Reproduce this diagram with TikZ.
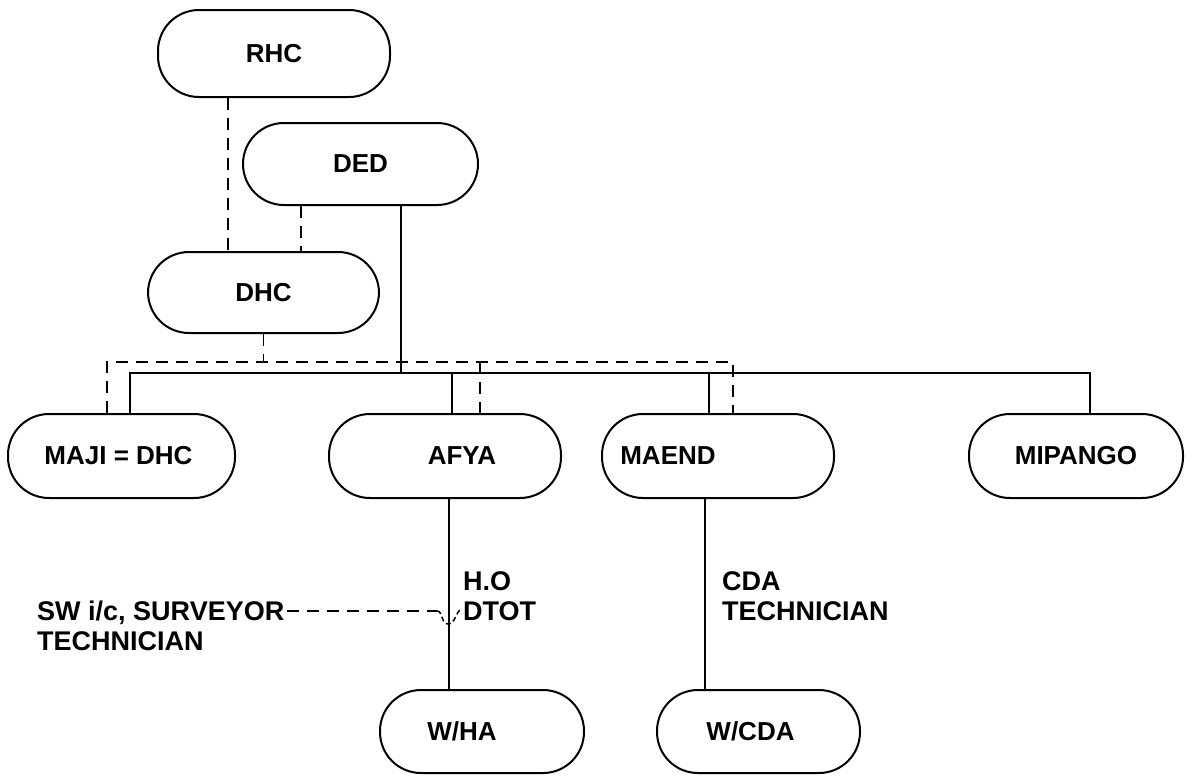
\documentclass[tikz,border=0pt]{standalone}
\usepackage{fontspec}
\setmainfont{Liberation Sans}
\usetikzlibrary{positioning}
\begin{document}
\begin{tikzpicture}[x=1pt, y=-1pt,
    office/.style={draw, line width=2pt, rounded corners=41pt, minimum height=84pt, inner sep=0pt, font=\bfseries\fontsize{26}{30}\selectfont},
    link/.style={line width=1.8pt},
    dlink/.style={line width=1.8pt, dash pattern=on 12pt off 8pt},
    note/.style={anchor=west, align=left, inner sep=0pt, font=\bfseries\fontsize{27}{30}\selectfont}]
    \useasboundingbox (0,0) rectangle (1192,779);

    % district level
    \node[office, minimum width=232pt, minimum height=87pt] (rhc) at (274,53.5) {RHC};
    \node[office, minimum width=235pt, minimum height=82pt] (ded) at (360.5,164) {DED};
    \node[office, minimum width=231pt, minimum height=81pt] (dhc) at (263.5,292.5) {DHC};

    % departments
    \node[office, minimum width=227pt] (maji) at (121.5,456) {MAJI = DHC\hspace*{6pt}};
    \node[office, minimum width=232pt] (afya) at (445,456) {\hspace*{34pt}AFYA};
    \node[office, minimum width=232pt] (maend) at (718,456) {MAEND\hspace*{100pt}};
    \node[office, minimum width=214pt] (mipango) at (1076,456) {MIPANGO};

    % ward level
    \node[office, minimum width=204pt, minimum height=83pt] (wha) at (482,731.5) {W/HA\hspace*{40pt}};
    \node[office, minimum width=203pt, minimum height=83pt] (wcda) at (758.5,731.5) {W/CDA\hspace*{16pt}};

    \node[note] (ho) at (463,596) {H.O\\DTOT};
    \node[note] (cda) at (722,596) {CDA\\TECHNICIAN};
    \node[note] (sw) at (37,626) {SW i/c, SURVEYOR\\TECHNICIAN};

    \coordinate (sbus) at (0,373);
    \coordinate (dbus) at (0,362);
    \coordinate (hop) at (437,611);

    \draw[dlink] ([xshift=-46pt]rhc.south) -- ([xshift=-46pt]rhc.south |- dhc.north);
    \draw[dlink] ([xshift=-59.5pt]ded.south) -- ([xshift=-59.5pt]ded.south |- dhc.north);
    \draw[link] ([xshift=40.5pt]ded.south) -- ([xshift=40.5pt]ded.south |- sbus);
    \draw[dlink] (dhc.south) -- (dhc.south |- dbus);

    \draw[link] ([xshift=8.5pt]maji.north) |- ([xshift=14pt]mipango.north |- sbus) -- ([xshift=14pt]mipango.north);
    \draw[link] ([xshift=7pt]afya.north |- sbus) -- ([xshift=7pt]afya.north);
    \draw[link] ([xshift=-9pt]maend.north |- sbus) -- ([xshift=-9pt]maend.north);
    \draw[dlink] ([xshift=-14.5pt]maji.north) |- ([xshift=15pt]maend.north |- dbus) -- ([xshift=15pt]maend.north);
    \draw[dlink] ([xshift=35pt]afya.north |- dbus) -- ([xshift=35pt]afya.north);

    \draw[link] ([xshift=4pt]afya.south) -- ([xshift=4pt]afya.south |- wha.north);
    \draw[link] ([xshift=-13pt]maend.south) -- ([xshift=-13pt]maend.south |- wcda.north);

    \draw[dlink] ([xshift=3pt, yshift=15pt]sw.east) -- (hop);
    \draw[line width=1.5pt, dash pattern=on 5pt off 3pt] (hop) .. controls +(6,0) and +(-7,0) .. ++(11,13) .. controls +(7,0) and +(-5,3) .. ++(13,-15);
\end{tikzpicture}
\end{document}
